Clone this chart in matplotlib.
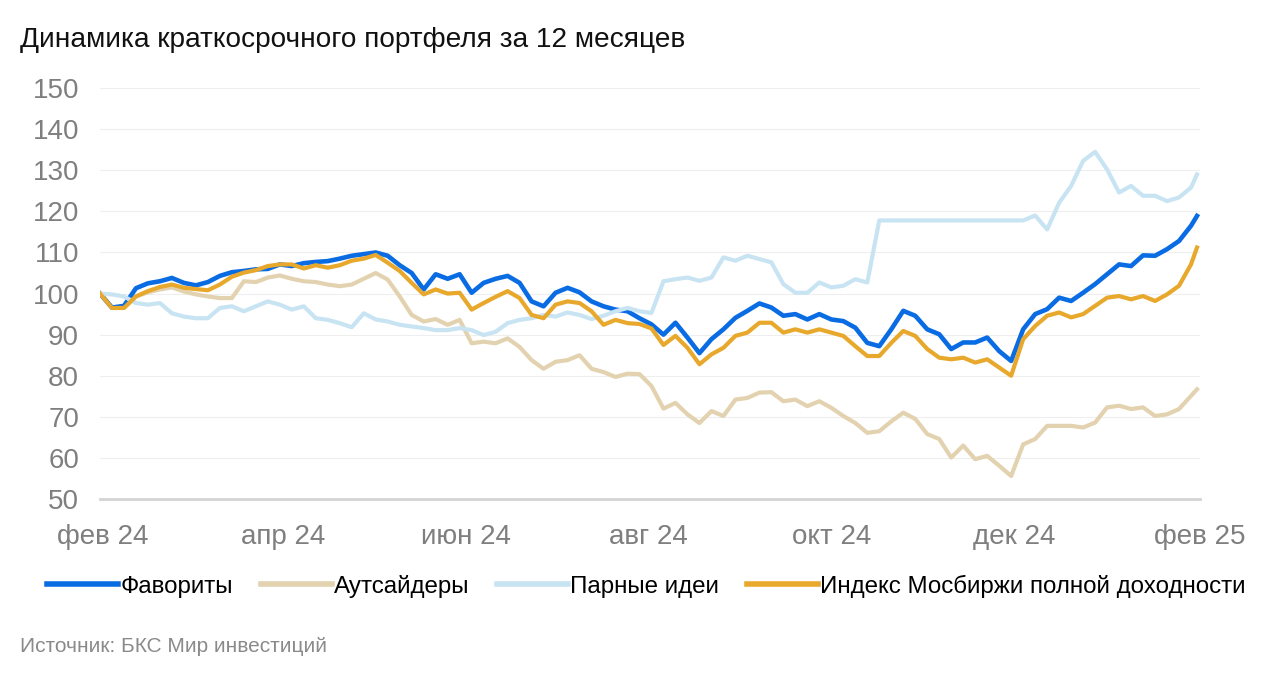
import matplotlib
matplotlib.use('Agg')
import matplotlib.pyplot as plt
import pandas as pd

# даты: шаг 4 дня + последняя точка
dates = list(pd.date_range('2024-01-31', periods=92, freq='4D')) + [pd.Timestamp('2025-01-31')]

favorites = [100, 96.6, 97.0, 101.3, 102.5, 103.0, 103.8, 102.6, 102.0, 102.8,
             104.3, 105.2, 105.5, 105.9, 106.0, 107.1, 106.7, 107.4, 107.7, 107.9,
             108.5, 109.2, 109.6, 110.0, 109.2, 106.9, 105.0, 101.0, 104.7, 103.6,
             104.7, 100.2, 102.6, 103.6, 104.3, 102.6, 98.1, 96.9, 100.2, 101.4,
             100.3, 98.1, 96.9, 96.1, 95.7, 94.0, 92.5, 90.0, 92.9, 89.3,
             85.5, 88.9, 91.3, 94.1, 95.8, 97.6, 96.6, 94.6, 95.0, 93.7,
             95.0, 93.7, 93.3, 91.7, 88.0, 87.2, 91.3, 95.8, 94.6, 91.3,
             90.1, 86.5, 88.1, 88.1, 89.3, 86.0, 83.6, 91.3, 95.0, 96.2,
             99.0, 98.2, 100.2, 102.3, 104.7, 107.1, 106.7, 109.3, 109.2, 110.8,
             112.8, 116.5, 118.9]

outsiders = [100, 96.5, 96.5, 99.3, 100.3, 101.0, 101.5, 100.5, 99.8, 99.3,
             98.9, 98.9, 103.0, 102.8, 103.9, 104.4, 103.6, 103.0, 102.8, 102.2,
             101.8, 102.2, 103.6, 105.0, 103.4, 99.3, 94.8, 93.2, 93.8, 92.4,
             93.6, 87.9, 88.3, 87.9, 89.1, 87.0, 83.8, 81.7, 83.4, 83.8,
             85.0, 81.7, 80.9, 79.7, 80.5, 80.4, 77.5, 72.0, 73.4, 70.6,
             68.5, 71.4, 70.2, 74.2, 74.6, 75.9, 76.0, 73.8, 74.2, 72.6,
             73.8, 72.2, 70.2, 68.5, 66.1, 66.5, 68.9, 71.0, 69.5, 65.8,
             64.6, 60.1, 63.0, 59.7, 60.5, 58.1, 55.6, 63.3, 64.6, 67.8,
             67.8, 67.8, 67.4, 68.6, 72.3, 72.7, 71.9, 72.3, 70.2, 70.6,
             71.9, 75.1, 76.7]

pairs = [100, 99.8, 99.3, 97.7, 97.3, 97.7, 95.2, 94.4, 94.0, 94.0,
         96.5, 96.9, 95.7, 96.9, 98.1, 97.3, 96.1, 96.9, 94.0, 93.6,
         92.8, 91.8, 95.2, 93.7, 93.2, 92.4, 92.0, 91.6, 91.1, 91.1,
         91.6, 91.1, 89.9, 90.7, 92.8, 93.6, 94.0, 94.8, 94.4, 95.4,
         94.8, 93.8, 94.6, 95.7, 96.5, 95.7, 95.3, 103.0, 103.5, 103.9,
         103.1, 103.9, 108.8, 108.0, 109.2, 108.4, 107.6, 102.3, 100.2, 100.2,
         102.7, 101.5, 101.9, 103.5, 102.7, 117.8, 117.8, 117.8, 117.8, 117.8,
         117.8, 117.8, 117.8, 117.8, 117.8, 117.8, 117.8, 117.8, 119.0, 115.6,
         122.1, 126.2, 132.3, 134.5, 130.2, 124.6, 126.2, 123.8, 123.8, 122.5,
         123.4, 125.8, 129.0]

imoex = [100, 96.5, 96.5, 99.3, 100.6, 101.6, 102.2, 101.4, 101.1, 100.8,
         102.2, 104.1, 105.1, 105.7, 106.7, 107.1, 107.1, 106.1, 106.9, 106.3,
         106.9, 108.0, 108.5, 109.4, 107.5, 105.5, 102.6, 99.8, 101.0, 100.0,
         100.2, 96.1, 97.7, 99.2, 100.6, 98.9, 94.8, 94.0, 97.3, 98.1,
         97.7, 95.7, 92.4, 93.6, 92.8, 92.6, 91.5, 87.5, 89.7, 86.8,
         82.8, 85.2, 86.8, 89.7, 90.5, 92.9, 92.9, 90.5, 91.3, 90.5,
         91.3, 90.5, 89.7, 87.2, 84.8, 84.8, 88.0, 90.9, 89.7, 86.5,
         84.4, 84.0, 84.4, 83.2, 84.0, 82.0, 80.0, 88.9, 92.1, 94.6,
         95.4, 94.2, 95.0, 97.0, 99.0, 99.4, 98.6, 99.4, 98.2, 99.8,
         101.9, 107.1, 111.2]

tick_dates = ['2024-02-01', '2024-04-01', '2024-06-01', '2024-08-01',
              '2024-10-01', '2024-12-01', '2025-02-01']
tick_labels = ['фев 24', 'апр 24', 'июн 24', 'авг 24', 'окт 24', 'дек 24', 'фев 25']
y_ticks = [50, 60, 70, 80, 90, 100, 110, 120, 130, 140, 150]

plt.rcParams['font.family'] = ['Liberation Sans', 'DejaVu Sans']

fig = plt.figure(figsize=(12.8, 6.78), dpi=100, facecolor='white')
ax = fig.add_axes([0.0781, 0.264, 0.8594, 0.606])

ax.plot(dates, outsiders, color='#E3D2AF', lw=3, label='Аутсайдеры', zorder=2)
ax.plot(dates, favorites, color='#0A6CE3', lw=3.3, label='Фавориты', zorder=3)
ax.plot(dates, pairs, color='#C8E4F3', lw=3, label='Парные идеи', zorder=4)
ax.plot(dates, imoex, color='#E8A82C', lw=3, label='Индекс Мосбиржи полной доходности', zorder=5)

ax.set_xlim(pd.Timestamp('2024-01-31'), pd.Timestamp('2025-02-01'))
ax.set_ylim(50, 150)
ax.set_yticks(y_ticks)
ax.set_xticks([pd.Timestamp(d) for d in tick_dates])
ax.set_xticklabels(tick_labels)

ax.grid(axis='y', color='#EEEEEE', lw=0.8)
ax.set_axisbelow(True)
for s in ['top', 'right', 'left']:
    ax.spines[s].set_visible(False)
ax.spines['bottom'].set_color('#D4D4D4')
ax.spines['bottom'].set_linewidth(2)
ax.spines['bottom'].set_zorder(1)
ax.tick_params(axis='both', length=0, labelsize=20, colors='#7F7F7F')
ax.tick_params(axis='x', pad=18)
ax.tick_params(axis='y', pad=15)

fig.text(20 / 1280, 1 - 40 / 678, 'Динамика краткосрочного портфеля за 12 месяцев',
         fontsize=20.2, color='#111111', va='center', ha='left')
fig.text(20 / 1280, 1 - 647 / 678, 'Источник: БКС Мир инвестиций',
         fontsize=15, color='#8A8A8A', va='center', ha='left')

h, l = ax.get_legend_handles_labels()
order = [1, 0, 2, 3]
leg = fig.legend([h[i] for i in order], [l[i] for i in order], loc='center left',
                 bbox_to_anchor=(47 / 1280, 1 - 586 / 678), ncol=4, frameon=False,
                 fontsize=17.4, handlelength=2.95, handletextpad=0.08, columnspacing=1.15,
                 borderaxespad=0, borderpad=0)
for line in leg.get_lines():
    line.set_linewidth(4)

plt.savefig('out.png', dpi=100, facecolor='white')
plt.close()
